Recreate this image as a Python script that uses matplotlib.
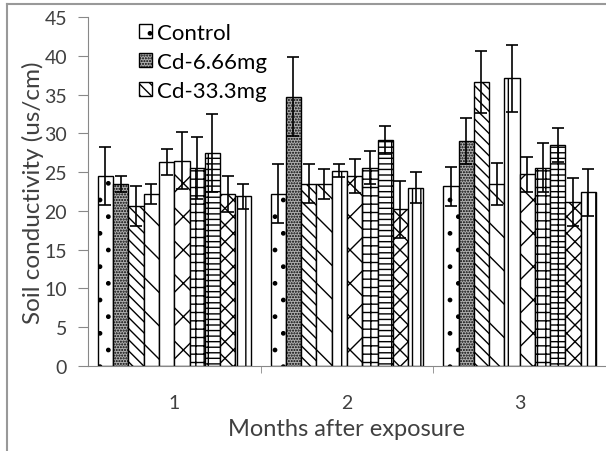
import numpy as np
import matplotlib
matplotlib.use("Agg")
import matplotlib.pyplot as plt
from matplotlib.lines import Line2D

plt.rcParams['font.family'] = ['Lato', 'DejaVu Sans']
plt.rcParams['hatch.linewidth'] = 1.0

months = ['1', '2', '3']
labels = ['Control', 'Cd-6.66mg', 'Cd-33.3mg', None, None, None, None, None, None, None]

# mean values per treatment (rows) for months 1..3 (columns)
means = [
    [24.5, 22.2, 23.2],
    [23.5, 34.7, 29.0],
    [20.6, 23.5, 36.6],
    [22.2, 23.5, 23.5],
    [26.3, 25.2, 37.1],
    [26.5, 24.5, 24.7],
    [25.5, 25.6, 25.6],
    [27.5, 29.2, 28.5],
    [22.2, 20.2, 21.1],
    [21.9, 23.0, 22.4],
]
errors = [
    [3.7, 3.8, 2.5],
    [1.0, 5.1, 3.0],
    [2.6, 2.5, 4.0],
    [1.3, 1.9, 2.7],
    [1.7, 0.8, 4.3],
    [3.7, 2.2, 2.3],
    [4.0, 2.1, 3.1],
    [5.0, 1.8, 2.2],
    [2.3, 3.7, 3.1],
    [1.6, 2.0, 3.0],
]
hatches = ['.', '......', '\\\\\\', '\\', '|', '/\\', '++', '+--', 'xx', '||']
fills = ['white', '#b0b0b0', 'white', 'white', 'white', 'white', 'white', 'white', 'white', 'white']

fig = plt.figure(figsize=(6.06, 4.52), dpi=100)
ax = fig.add_axes([0.145, 0.188, 0.855, 0.772])

x = np.arange(len(months))
w = 0.0885
for i in range(len(means)):
    ax.bar(x + (i - 4.5) * w, means[i], w, color=fills[i], edgecolor='black',
           linewidth=1.0, hatch=hatches[i], label=labels[i],
           yerr=errors[i], error_kw=dict(ecolor='black', capsize=4, elinewidth=1.2, capthick=1.2))

ax.set_ylim(0, 45)
ax.set_yticks(range(0, 46, 5))
ax.set_xlim(-0.5, 2.5)
ax.set_xticks(x)
ax.set_xticklabels(months)
ax.set_xticks([0.5, 1.5], minor=True)
ax.tick_params(axis='x', which='major', length=0, pad=20, labelsize=14, colors='#404040')
ax.tick_params(axis='x', which='minor', length=5, color='#888888')
ax.tick_params(axis='y', length=7, color='#888888', labelsize=14, labelcolor='#404040', pad=8)
for s in ['top', 'right']:
    ax.spines[s].set_visible(False)
for s in ['left', 'bottom']:
    ax.spines[s].set_color('#888888')

ax.set_ylabel('Soil conductivity (us/cm)', fontsize=17.5, color='#404040', labelpad=0)
ax.set_xlabel('Months after exposure', fontsize=17, color='#404040', labelpad=5)

ax.legend(loc='upper left', bbox_to_anchor=(0.06, 1.04), frameon=False, fontsize=16,
          handlelength=0.6, handleheight=0.6, handletextpad=0.2, labelspacing=0.4)

# outer frame
fig.add_artist(Line2D([7 / 606, 7 / 606], [0, 1 - 5 / 452], color='#999999', lw=1.5, transform=fig.transFigure))
fig.add_artist(Line2D([7 / 606, 1], [1 - 5 / 452, 1 - 5 / 452], color='#999999', lw=1.5, transform=fig.transFigure))

fig.savefig('out.png', dpi=100)
